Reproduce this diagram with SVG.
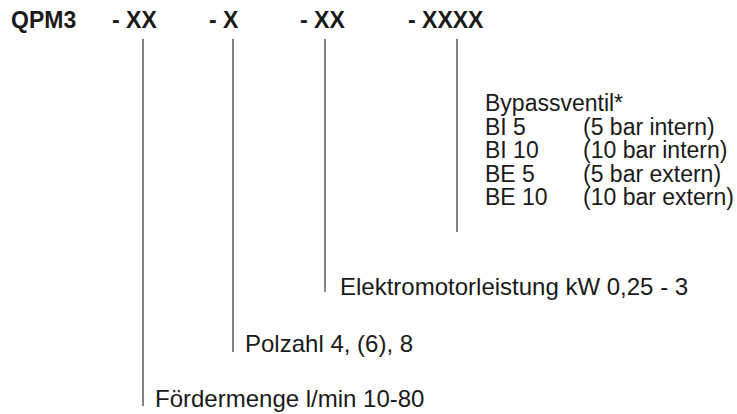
<svg xmlns="http://www.w3.org/2000/svg" width="737" height="414" viewBox="0 0 737 414">
<style>
text{font-family:"Liberation Sans",Arial,sans-serif;fill:#1a1a1a;font-size:23px}
.h{font-weight:bold;font-size:23px}
.l{font-size:24px}
.c line{stroke:#333;stroke-width:1.2}
</style>
<rect width="737" height="414" fill="#fff"/>
<g id="header">
<text class="h" x="11" y="28">QPM3</text>
<text class="h" x="112" y="28">- XX</text>
<text class="h" x="209" y="28">- X</text>
<text class="h" x="300" y="28">- XX</text>
<text class="h" x="408" y="28">- XXXX</text>
</g>
<g class="c" id="connectors">
<line x1="143" y1="39" x2="143" y2="406"/>
<line x1="233" y1="39" x2="233" y2="352"/>
<line x1="325" y1="39" x2="325" y2="292"/>
<line x1="457" y1="39" x2="457" y2="232"/>
</g>
<g id="bypass">
<text x="485" y="111">Bypassventil*</text>
<text x="485" y="135">BI 5</text><text x="583" y="135">(5 bar intern)</text>
<text x="485" y="158">BI 10</text><text x="583" y="158">(10 bar intern)</text>
<text x="485" y="182">BE 5</text><text x="583" y="182">(5 bar extern)</text>
<text x="485" y="205">BE 10</text><text x="583" y="205">(10 bar extern)</text>
</g>
<g id="motor"><text class="l" x="340" y="295">Elektromotorleistung kW 0,25 - 3</text></g>
<g id="polzahl"><text class="l" x="245" y="352">Polzahl 4, (6), 8</text></g>
<g id="foerder"><text class="l" x="155" y="407">Fördermenge l/min 10-80</text></g>
</svg>
